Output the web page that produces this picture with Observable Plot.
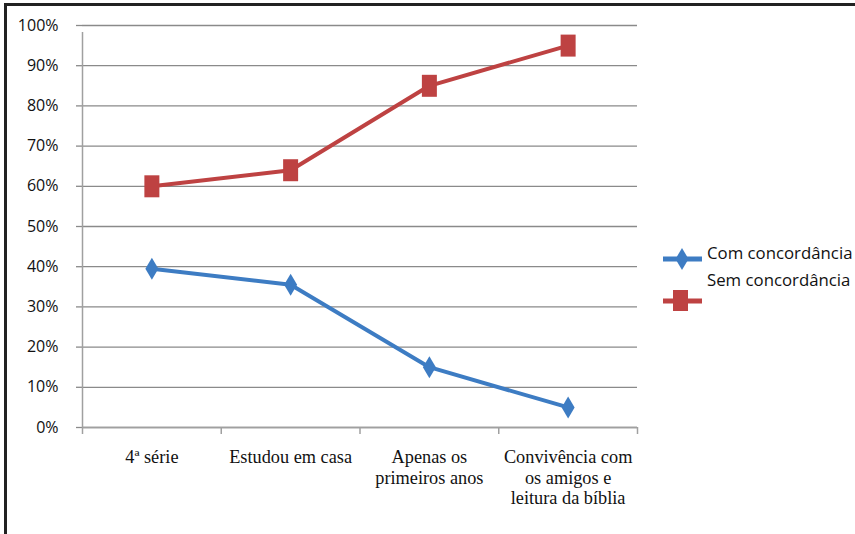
<!DOCTYPE html>
<html><head><meta charset="utf-8">
<script src="https://cdn.jsdelivr.net/npm/d3@7"></script>
<script src="https://cdn.jsdelivr.net/npm/@observablehq/plot@0.6"></script>
<style>
body{margin:0;background:#fff;}
#wrap{position:relative;width:855px;height:534px;overflow:hidden;}
#frame{position:absolute;left:4px;top:3px;width:900px;height:600px;border-left:3px solid #222;border-top:3px solid #222;box-sizing:border-box;}
#chart{position:absolute;left:0;top:0;}
.leg{position:absolute;font-family:"Open Sans",sans-serif;font-size:16.8px;color:#111;white-space:nowrap;line-height:1;}
</style></head>
<body><div id="wrap"><div id="frame"></div><div id="chart"></div>
<div class="leg" style="left:707px;top:245px">Com concordância</div>
<div class="leg" style="left:707px;top:272px">Sem concordância</div>
<svg id="legsw" width="60" height="80" style="position:absolute;left:655px;top:240px"></svg>
</div>
<script>
const categories = ["4ª série", "Estudou em casa", "Apenas os\nprimeiros anos", "Convivência com\nos amigos e\nleitura da bíblia"];
const comConcordancia = [0.395, 0.355, 0.15, 0.05];
const semConcordancia = [0.60, 0.64, 0.85, 0.95];
const seriesNames = ["Com concordância", "Sem concordância"];
const colors = ["#3d7cc3", "#be4242"];
const yTicks = [0,0.1,0.2,0.3,0.4,0.5,0.6,0.7,0.8,0.9,1];

const diamond = {draw(ctx){ctx.moveTo(0,-11);ctx.lineTo(6.5,0);ctx.lineTo(0,11);ctx.lineTo(-6.5,0);ctx.closePath();}};
const square = {draw(ctx){ctx.rect(-7.5,-11,15,22);}};

const data = [];
categories.forEach((c,i)=>{
  data.push({s:seriesNames[0], x:i+0.5, y:comConcordancia[i]});
  data.push({s:seriesNames[1], x:i+0.5, y:semConcordancia[i]});
});
const com = data.filter(d=>d.s===seriesNames[0]);
const sem = data.filter(d=>d.s===seriesNames[1]);
const catRows = categories.map((c,i)=>({x:i+0.5, label:c}));

const plot = Plot.plot({
  width: 855, height: 534,
  marginLeft: 82, marginTop: 25, marginRight: 218, marginBottom: 107,
  style: {fontFamily: "Open Sans, sans-serif", background: "transparent"},
  x: {type: "linear", domain: [0, categories.length], label: null},
  y: {domain: [0, 1], label: null, axis: null},
  marks: [
    Plot.gridY(yTicks, {stroke: "#8a8a8a", strokeOpacity: 1, strokeWidth: 1.3}),
    Plot.tickY(yTicks, {y: d=>d, stroke: "#8a8a8a", strokeWidth: 1.3, insetLeft: -6, insetRight: 555}),
    Plot.text(yTicks, {y: d=>d, frameAnchor: "left", dx: -24, textAnchor: "end", text: d3.format(".0%"), fontSize: 16, fill: "#111", fontFamily: "Open Sans"}),
    Plot.ruleX([0], {y1: 0, y2: 1, stroke: "#a0a0a0", strokeWidth: 1.5, insetBottom: -7}),
    Plot.ruleY([0], {stroke: "#a0a0a0", strokeWidth: 1.5}),
    Plot.axisX(d3.range(categories.length + 1), {tickSize: 7, tickFormat: () => "", stroke: "#a0a0a0", strokeWidth: 1.5, label: null}),
    Plot.text(catRows, {x: "x", text: "label", frameAnchor: "bottom", lineAnchor: "top", dy: 21, fontSize: 18.3, lineHeight: 1.12, fill: "#111", fontFamily: "Liberation Serif"}),
    Plot.line(com, {x: "x", y: "y", stroke: colors[0], strokeWidth: 4}),
    Plot.line(sem, {x: "x", y: "y", stroke: colors[1], strokeWidth: 4}),
    Plot.dot(com, {x: "x", y: "y", symbol: diamond, fill: colors[0], r: 6}),
    Plot.dot(sem, {x: "x", y: "y", symbol: square, fill: colors[1], r: 6})
  ]
});
document.getElementById("chart").appendChild(plot);

// legend swatches
const sw = d3.select("#legsw");
sw.append("line").attr("x1",8).attr("x2",47).attr("y1",19).attr("y2",19).attr("stroke",colors[0]).attr("stroke-width",5);
sw.append("path").attr("d","M27,8L33.5,19L27,30L20.5,19Z").attr("fill",colors[0]);
sw.append("line").attr("x1",8).attr("x2",47).attr("y1",61).attr("y2",61).attr("stroke",colors[1]).attr("stroke-width",5);
sw.append("rect").attr("x",18).attr("y",50).attr("width",15).attr("height",21).attr("fill",colors[1]);
</script></body></html>
